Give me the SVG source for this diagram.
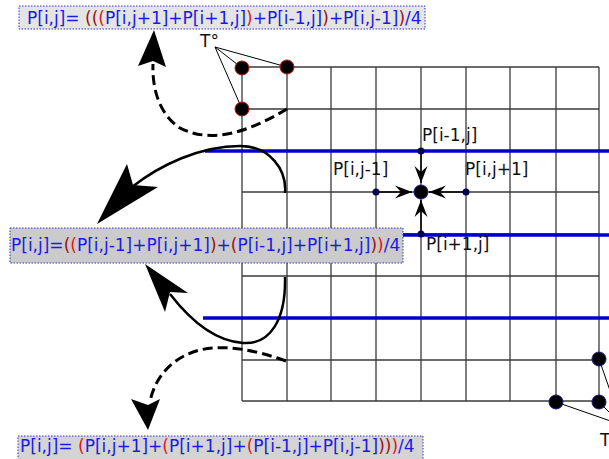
<svg xmlns="http://www.w3.org/2000/svg" width="609" height="459" viewBox="0 0 609 459">
<style>
.grid line{stroke:#3a3a3a;stroke-width:1.3}
.blue{stroke:#0000cc;stroke-width:3.5}
.lbl{font-family:"DejaVu Sans",sans-serif;font-size:17px;fill:#111}
.eq{font-family:"DejaVu Sans",sans-serif;font-size:17px;fill:#1a1ae6}
.dr{fill:#a01010}
.rd{fill:#e01818}
.box{stroke:#3030d0;stroke-width:1;stroke-dasharray:1.5 1.5}
.dash{fill:none;stroke:#000;stroke-width:3;stroke-dasharray:10 5}
.solid{fill:none;stroke:#000;stroke-width:2.5}
.thin{stroke:#000;stroke-width:1}
.head{fill:#000}
</style>
<defs>
<marker id="stealth" markerUnits="userSpaceOnUse" markerWidth="20" markerHeight="16" viewBox="-18 -8 20 16" refX="0" refY="0" orient="auto">
<path d="M0,0 L-17,-6.5 L-11,0 L-17,6.5 Z" fill="#000"/>
</marker>
</defs>
<rect width="609" height="459" fill="#fff"/>
<g id="grid" class="grid">
<line x1="242" y1="67" x2="599" y2="67"/>
<line x1="242" y1="109" x2="599" y2="109"/>
<line x1="242" y1="151" x2="599" y2="151"/>
<line x1="242" y1="192" x2="599" y2="192"/>
<line x1="242" y1="234" x2="599" y2="234"/>
<line x1="242" y1="276" x2="599" y2="276"/>
<line x1="242" y1="318" x2="599" y2="318"/>
<line x1="242" y1="360" x2="599" y2="360"/>
<line x1="242" y1="401" x2="599" y2="401"/>
<line x1="242" y1="67" x2="242" y2="401"/>
<line x1="287" y1="67" x2="287" y2="401"/>
<line x1="331" y1="67" x2="331" y2="401"/>
<line x1="376" y1="67" x2="376" y2="401"/>
<line x1="421" y1="67" x2="421" y2="401"/>
<line x1="466" y1="67" x2="466" y2="401"/>
<line x1="510" y1="67" x2="510" y2="401"/>
<line x1="556" y1="67" x2="556" y2="401"/>
<line x1="599" y1="67" x2="599" y2="401"/>
</g>
<g id="bluelines">
<line class="blue" x1="205" y1="151" x2="609" y2="151"/>
<line class="blue" x1="205" y1="235" x2="609" y2="235"/>
<line class="blue" x1="203" y1="318" x2="609" y2="318"/>
</g>
<g id="connectors">
<line class="thin" x1="215" y1="47" x2="242" y2="68"/>
<line class="thin" x1="215" y1="47" x2="287" y2="67"/>
<line class="thin" x1="215" y1="47" x2="242" y2="109"/>
<line class="thin" x1="622" y1="425" x2="556" y2="402"/>
<line class="thin" x1="622" y1="425" x2="599" y2="402"/>
<line class="thin" x1="622" y1="425" x2="599" y2="359"/>
<line x1="376" y1="192" x2="412" y2="192" stroke="#000" stroke-width="1.5" marker-end="url(#stealth)"/>
<line x1="466" y1="192" x2="429" y2="192" stroke="#000" stroke-width="1.5" marker-end="url(#stealth)"/>
<line x1="421" y1="151" x2="421" y2="183" stroke="#000" stroke-width="1.5" marker-end="url(#stealth)"/>
<line x1="421" y1="234" x2="421" y2="200" stroke="#000" stroke-width="1.5" marker-end="url(#stealth)"/>
<path class="dash" d="M287,109 C255,128 215,146 180,128 C160,115 152,90 153,64"/>
<path class="head" d="M154,30 L138,66 L153,61 L166,67 Z"/>
<path class="solid" d="M285,193 C287,170 270,146 240,146 C200,146 160,165 132,187"/>
<path class="head" d="M97,224 L127,164 L133,185 L158,187 Z"/>
<path class="solid" d="M285,277 C286,320 270,345 243,343 C215,341 190,320 170,294"/>
<path class="head" d="M145,264 L188,293 L170,292 L165,312 Z"/>
<path class="dash" d="M286,361 C255,350 225,344 200,350 C175,356 155,375 150,402"/>
<path class="head" d="M148,430 L131,399 L148,405 L160,399 Z"/>
</g>
<g id="corner-top">
<circle cx="242" cy="68" r="7" fill="#000" stroke="#c01010" stroke-width="1"/>
<circle cx="287" cy="67" r="7" fill="#000" stroke="#c01010" stroke-width="1"/>
<circle cx="242" cy="109" r="7" fill="#000" stroke="#c01010" stroke-width="1"/>
<text class="lbl" x="200" y="47" font-size="16">T°</text>
</g>
<g id="corner-bottom">
<circle cx="556" cy="402" r="7" fill="#000" stroke="#1a1a80" stroke-width="1"/>
<circle cx="599" cy="402" r="7" fill="#000" stroke="#1a1a80" stroke-width="1"/>
<circle cx="599" cy="359" r="7" fill="#000" stroke="#1a1a80" stroke-width="1"/>
<text class="lbl" x="600" y="446" font-size="16">T°</text>
</g>
<g id="center">
<circle cx="421" cy="192" r="7" fill="#000" stroke="#1a1a90" stroke-width="1"/>
<circle cx="421" cy="151" r="3.5" fill="#000050"/>
<circle cx="376" cy="192" r="3.5" fill="#000050"/>
<circle cx="466" cy="192" r="3.5" fill="#000050"/>
<circle cx="421" cy="234" r="3.5" fill="#000050"/>
<text class="lbl" x="422" y="141">P[i-1,j]</text>
<text class="lbl" x="333" y="175">P[i,j-1]</text>
<text class="lbl" x="465" y="175">P[i,j+1]</text>
<text class="lbl" x="426" y="250">P[i+1,j]</text>
</g>
<g id="eq-top">
<rect class="box" x="19" y="6" width="406" height="23" fill="#e4e4e4"/>
<text class="eq" x="27" y="24">P[i,j]= <tspan class="dr">((</tspan><tspan class="rd">(</tspan>P[i,j+1]+P[i+1,j]<tspan class="rd">)</tspan>+P[i-1,j]<tspan class="dr">)</tspan>+P[i,j-1]<tspan class="dr">)</tspan>/4</text>
</g>
<g id="eq-middle">
<rect class="box" x="10" y="228" width="393" height="35" fill="#cbcbcb"/>
<text class="eq" x="11" y="251">P[i,j]=<tspan class="dr">(</tspan><tspan class="rd">(</tspan>P[i,j-1]+P[i,j+1]<tspan class="dr">)</tspan>+<tspan class="dr">(</tspan>P[i-1,j]+P[i+1,j]<tspan class="dr">)</tspan><tspan class="rd">)</tspan>/4</text>
</g>
<g id="eq-bottom">
<rect class="box" x="18" y="436" width="405" height="24" fill="#d4d4d4"/>
<text class="eq" x="20" y="452">P[i,j]= <tspan class="rd">(</tspan>P[i,j+1]+<tspan class="rd">(</tspan>P[i+1,j]+<tspan class="rd">(</tspan>P[i-1,j]+P[i,j-1]<tspan class="dr">))</tspan><tspan class="rd">)</tspan>/4</text>
</g>
</svg>
